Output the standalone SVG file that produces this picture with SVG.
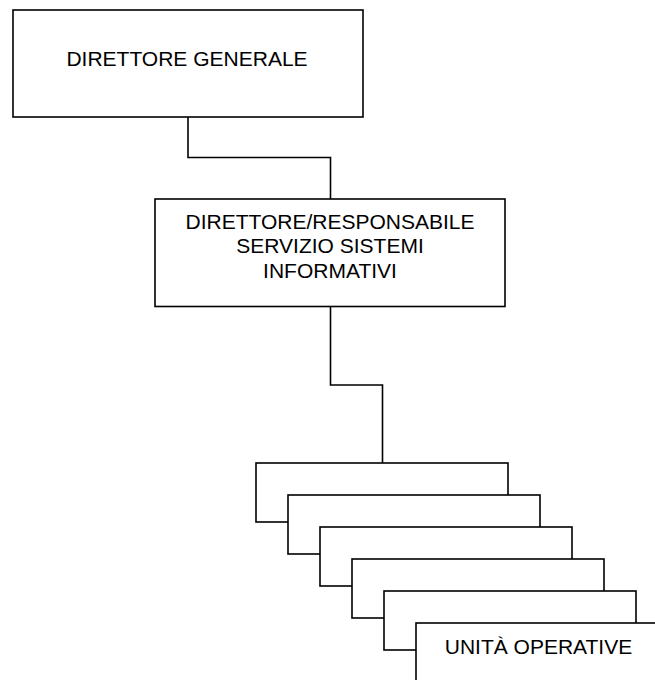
<svg xmlns="http://www.w3.org/2000/svg" width="655" height="680" viewBox="0 0 655 680">
  <style>
    .box { fill: #ffffff; stroke: #000000; stroke-width: 1.6; }
    .conn { fill: none; stroke: #000000; stroke-width: 1.6; }
    .lbl { font-family: "Liberation Sans", Arial, sans-serif; font-size: 21px; fill: #000000; text-anchor: middle; }
  </style>
  <rect width="655" height="680" fill="#ffffff"/>
  <g id="connectors">
    <polyline class="conn" points="188,117 188,157.5 330.5,157.5 330.5,199"/>
    <polyline class="conn" points="330.5,306.5 330.5,385 382.5,385 382.5,463"/>
  </g>
  <g id="direttore-generale">
    <rect class="box" x="13" y="10" width="350" height="107"/>
    <text class="lbl" x="187" y="66">DIRETTORE GENERALE</text>
  </g>
  <g id="direttore-ssi">
    <rect class="box" x="155" y="199" width="350" height="107.5"/>
    <text class="lbl" x="330" y="229">DIRETTORE/RESPONSABILE</text>
    <text class="lbl" x="330" y="253">SERVIZIO SISTEMI</text>
    <text class="lbl" x="330" y="277.5">INFORMATIVI</text>
  </g>
  <g id="unita-1"><rect class="box" x="256" y="463" width="252" height="59"/></g>
  <g id="unita-2"><rect class="box" x="288" y="495" width="252" height="59"/></g>
  <g id="unita-3"><rect class="box" x="320" y="527" width="252" height="59"/></g>
  <g id="unita-4"><rect class="box" x="352" y="559" width="252" height="59"/></g>
  <g id="unita-5"><rect class="box" x="384" y="591" width="252" height="59"/></g>
  <g id="unita-operative">
    <rect class="box" x="416" y="623" width="252" height="59"/>
    <text class="lbl" x="538.5" y="654">UNITÀ OPERATIVE</text>
  </g>
</svg>
